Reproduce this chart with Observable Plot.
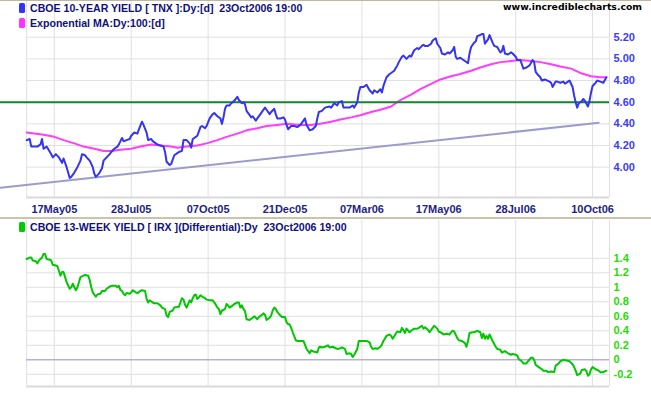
<!DOCTYPE html>
<html><head><meta charset="utf-8">
<script src="https://cdn.jsdelivr.net/npm/d3@7"></script>
<script src="https://cdn.jsdelivr.net/npm/@observablehq/plot@0.6"></script>
<style>
body{margin:0;background:#fff;}
#wrap{position:relative;width:651px;height:395px;overflow:hidden;background:#fff;}
#top,#bot,#over{position:absolute;left:0;}
#top{top:0}
#bot{top:220px}
#over{top:0;pointer-events:none}
</style></head><body>
<div id="wrap"><div id="top"></div><div id="bot"></div><div id="over"></div></div>
<script>
// trading-day index (0 = first session shown) and values
const tickDays = [18, 68, 118, 168, 218, 268, 318, 368];
const tickLabels = ["17May05","28Jul05","07Oct05","21Dec05","07Mar06","17May06","28Jul06","10Oct06"];
const topTicks = [4.0, 4.2, 4.4, 4.6, 4.8, 5.0, 5.2];
const botTicks = [-0.2, 0, 0.2, 0.4, 0.6, 0.8, 1, 1.2, 1.4];
const resistance = 4.60;
const trendline = [[-17, 3.81], [372, 4.41]];

const tnxSeries = [
[0,4.25],[2,4.26],[3,4.19],[5,4.19],[7,4.19],[9,4.21],[10,4.26],[11,4.17],[13,4.19],[16,4.12],
[17,4.09],[19,4.12],[21,4.09],[23,4.04],[24,4.08],[26,4.00],[28,3.90],[29,3.91],[31,3.95],[33,4.00],
[35,4.06],[36,4.12],[38,4.11],[39,4.09],[41,4.06],[43,4.00],[44,3.94],[45,3.91],[47,3.94],[49,3.99],
[50,4.06],[52,4.09],[54,4.12],[55,4.14],[57,4.17],[59,4.19],[60,4.21],[62,4.27],[63,4.24],[65,4.25],
[67,4.26],[68,4.29],[70,4.32],[72,4.31],[73,4.35],[75,4.42],[76,4.39],[78,4.32],[79,4.25],[81,4.26],
[82,4.24],[84,4.22],[85,4.21],[87,4.20],[89,4.19],[90,4.14],[91,4.05],[93,4.02],[94,4.03],[96,4.11],
[98,4.13],[99,4.14],[101,4.15],[102,4.25],[104,4.25],[106,4.22],[107,4.18],[108,4.26],[110,4.28],[111,4.29],
[113,4.37],[114,4.38],[116,4.36],[117,4.38],[119,4.45],[121,4.49],[122,4.50],[124,4.47],[126,4.45],[127,4.40],
[128,4.46],[129,4.54],[130,4.57],[132,4.57],[133,4.59],[134,4.60],[136,4.63],[137,4.65],[138,4.62],[140,4.59],
[141,4.60],[142,4.58],[143,4.52],[145,4.48],[146,4.46],[147,4.47],[149,4.43],[150,4.45],[152,4.49],[153,4.51],
[155,4.55],[156,4.53],[158,4.49],[159,4.51],[161,4.54],[162,4.49],[163,4.45],[165,4.45],[167,4.46],[168,4.44],
[169,4.39],[170,4.35],[172,4.38],[174,4.38],[176,4.37],[178,4.39],[180,4.43],[181,4.45],[182,4.39],[184,4.34],
[186,4.35],[188,4.38],[189,4.45],[190,4.51],[192,4.52],[194,4.55],[197,4.56],[198,4.55],[200,4.59],[202,4.57],
[203,4.60],[205,4.61],[206,4.55],[208,4.55],[210,4.55],[212,4.57],[213,4.55],[215,4.60],[216,4.69],[217,4.74],
[219,4.74],[221,4.76],[223,4.71],[225,4.68],[226,4.71],[228,4.69],[230,4.72],[231,4.69],[232,4.75],[234,4.83],
[236,4.86],[237,4.87],[239,4.89],[241,4.94],[242,4.97],[244,5.02],[245,5.03],[247,5.00],[249,5.03],[250,5.02],
[252,5.08],[254,5.10],[255,5.09],[257,5.12],[258,5.13],[259,5.12],[261,5.12],[263,5.14],[264,5.17],[266,5.19],
[267,5.14],[269,5.10],[270,5.05],[272,5.04],[274,5.06],[275,5.05],[277,5.08],[278,5.11],[279,5.02],[280,5.00],
[282,5.01],[284,4.99],[285,4.98],[287,4.96],[288,5.05],[289,5.11],[291,5.15],[292,5.16],[293,5.21],[295,5.22],
[296,5.23],[297,5.23],[298,5.14],[300,5.18],[301,5.22],[303,5.15],[304,5.12],[306,5.11],[308,5.06],[309,5.07],
[310,5.12],[311,5.05],[313,5.04],[315,5.06],[316,5.05],[318,5.02],[319,4.99],[321,4.99],[322,4.95],[323,4.91],
[325,4.92],[327,4.94],[329,4.99],[330,4.97],[331,4.88],[332,4.86],[334,4.83],[335,4.80],[337,4.81],[340,4.79],
[341,4.78],[342,4.74],[344,4.79],[345,4.79],[347,4.78],[349,4.79],[350,4.77],[352,4.79],[353,4.80],[355,4.74],
[356,4.66],[357,4.60],[358,4.55],[359,4.59],[361,4.61],[362,4.63],[363,4.61],[365,4.56],[366,4.61],[367,4.69],
[368,4.75],[370,4.78],[371,4.80],[373,4.79],[375,4.78],[377,4.83]];

const emaSeries = [
[0,4.32],[5,4.31],[11,4.30],[18,4.28],[24,4.25],[31,4.22],[37,4.19],[44,4.17],[50,4.15],[55,4.15],
[61,4.16],[68,4.17],[74,4.19],[81,4.21],[87,4.20],[94,4.19],[98,4.18],[104,4.19],[111,4.20],[117,4.22],
[124,4.25],[130,4.28],[137,4.31],[143,4.34],[150,4.36],[156,4.38],[163,4.39],[169,4.40],[178,4.39],[185,4.39],
[191,4.40],[198,4.42],[204,4.44],[211,4.46],[217,4.48],[224,4.51],[230,4.53],[237,4.56],[243,4.62],[250,4.67],
[256,4.72],[263,4.77],[269,4.81],[276,4.84],[282,4.86],[289,4.89],[295,4.92],[302,4.95],[308,4.97],[315,4.98],
[321,4.99],[328,4.98],[334,4.97],[341,4.95],[347,4.93],[354,4.91],[360,4.87],[367,4.84],[373,4.83],[377,4.83]];

const irxSeries = [
[0,1.39],[2,1.41],[3,1.41],[4,1.37],[6,1.36],[7,1.33],[8,1.37],[9,1.39],[10,1.41],[11,1.46],
[12,1.46],[13,1.39],[15,1.38],[16,1.37],[17,1.31],[19,1.30],[20,1.29],[22,1.16],[23,1.21],[24,1.21],
[25,1.14],[26,1.07],[28,0.98],[29,1.00],[30,1.05],[31,1.00],[32,0.96],[33,1.00],[34,1.07],[35,1.14],
[37,1.16],[38,1.17],[40,1.16],[41,1.10],[42,1.00],[43,0.93],[45,0.87],[46,0.90],[48,0.91],[49,0.95],
[51,0.95],[52,0.98],[54,1.01],[56,1.02],[58,1.02],[59,1.00],[60,1.02],[61,0.96],[62,0.95],[63,0.91],
[64,0.89],[65,0.92],[67,0.91],[68,0.93],[69,0.96],[71,0.93],[72,0.92],[74,0.95],[75,0.96],[77,0.95],
[78,0.84],[79,0.79],[80,0.82],[82,0.79],[83,0.78],[85,0.78],[87,0.75],[88,0.72],[90,0.70],[91,0.61],
[92,0.59],[93,0.66],[95,0.68],[96,0.72],[98,0.73],[99,0.73],[100,0.79],[101,0.85],[102,0.83],[103,0.76],
[104,0.72],[106,0.82],[107,0.79],[108,0.85],[109,0.89],[110,0.90],[111,0.84],[112,0.86],[113,0.89],[115,0.86],
[116,0.85],[117,0.83],[119,0.82],[121,0.82],[122,0.79],[123,0.76],[124,0.72],[125,0.70],[126,0.63],[127,0.68],
[129,0.70],[130,0.77],[131,0.75],[132,0.72],[134,0.75],[135,0.77],[137,0.79],[138,0.79],[139,0.72],[140,0.75],
[141,0.70],[142,0.67],[143,0.56],[145,0.55],[147,0.58],[148,0.60],[150,0.56],[151,0.59],[153,0.62],[154,0.64],
[155,0.62],[156,0.55],[158,0.58],[159,0.61],[160,0.68],[161,0.72],[162,0.70],[163,0.66],[165,0.61],[166,0.59],
[168,0.59],[169,0.52],[170,0.49],[171,0.49],[172,0.44],[173,0.38],[175,0.27],[176,0.26],[178,0.26],[180,0.26],
[182,0.15],[184,0.09],[185,0.13],[187,0.11],[189,0.10],[190,0.17],[191,0.18],[192,0.17],[194,0.18],[196,0.20],
[197,0.17],[199,0.18],[200,0.17],[202,0.15],[204,0.16],[205,0.17],[207,0.15],[208,0.08],[210,0.09],[211,0.08],
[212,0.04],[213,0.07],[215,0.15],[216,0.26],[218,0.26],[219,0.26],[221,0.26],[223,0.24],[224,0.18],[225,0.15],
[227,0.16],[228,0.15],[230,0.18],[231,0.21],[232,0.26],[234,0.33],[236,0.35],[237,0.33],[238,0.29],[240,0.36],
[241,0.39],[243,0.38],[244,0.44],[245,0.41],[246,0.37],[247,0.43],[249,0.38],[250,0.40],[252,0.43],[254,0.43],
[255,0.44],[257,0.47],[258,0.43],[259,0.45],[261,0.41],[262,0.38],[264,0.44],[265,0.47],[267,0.43],[268,0.39],
[270,0.37],[271,0.35],[273,0.36],[275,0.35],[276,0.38],[277,0.40],[278,0.39],[280,0.30],[281,0.27],[283,0.26],
[285,0.23],[286,0.18],[287,0.26],[288,0.37],[290,0.38],[291,0.38],[293,0.40],[294,0.39],[295,0.38],[296,0.30],
[297,0.36],[298,0.29],[299,0.33],[300,0.29],[301,0.35],[303,0.26],[305,0.18],[306,0.15],[308,0.14],[309,0.10],
[311,0.12],[313,0.09],[315,0.07],[316,0.08],[318,0.07],[319,0.06],[320,0.01],[322,-0.02],[323,-0.05],[325,-0.05],
[326,-0.02],[328,0.03],[329,0.03],[330,0.00],[331,-0.07],[333,-0.10],[335,-0.13],[336,-0.15],[338,-0.15],[339,-0.17],
[341,-0.16],[343,-0.17],[344,-0.08],[346,-0.05],[347,-0.02],[349,0.00],[351,-0.01],[353,-0.02],[355,-0.06],[356,-0.10],
[357,-0.15],[358,-0.21],[360,-0.19],[361,-0.14],[363,-0.13],[364,-0.16],[365,-0.22],[366,-0.20],[367,-0.13],[368,-0.10],
[370,-0.13],[372,-0.15],[373,-0.17],[375,-0.17],[377,-0.15]];

const xDomain = [-17, 379];
const firstDay = tnxSeries[0][0];
const grid = "#e0e0e0";
const FAMILY = "Liberation Sans, Arial, sans-serif";
const font = {fontFamily: FAMILY, fontSize: "11px", fontWeight: "bold", background: "transparent", overflow: "visible"};

const topPlot = Plot.plot({
  width: 651, height: 219,
  marginLeft: 0, marginRight: 42, marginTop: 0, marginBottom: 22,
  x: {domain: xDomain},
  y: {domain: [3.72, 5.539]},
  style: font,
  marks: [
    Plot.ruleX(tickDays, {stroke: grid}),
    Plot.ruleX([firstDay, xDomain[1]], {stroke: grid}),
    Plot.ruleY(topTicks, {x1: firstDay, x2: xDomain[1], stroke: grid}),
    Plot.ruleY([3.72], {x1: firstDay, x2: xDomain[1], stroke: "#dadada", strokeWidth: 2}),
    Plot.line(trendline, {x: d => d[0], y: d => d[1], stroke: "#9c9ccc", strokeWidth: 2}),
    Plot.line(emaSeries, {x: d => d[0], y: d => d[1], stroke: "#ff3cff", strokeWidth: 2}),
    Plot.ruleY([resistance], {stroke: "#0e8a28", strokeWidth: 2}),
    Plot.line(tnxSeries, {x: d => d[0], y: d => d[1], stroke: "#3434f2", strokeWidth: 2}),
    Plot.axisY(topTicks, {anchor: "right", tickSize: 0, tickPadding: 4, tickFormat: d3.format(".2f"), fill: "#3a3aff", label: null}),
    Plot.axisX(tickDays, {anchor: "bottom", tickSize: 0, tickPadding: 8, tickFormat: d => tickLabels[tickDays.indexOf(d)], fill: "#1e1e84", label: null})
  ]
});
document.getElementById("top").appendChild(topPlot);

const botPlot = Plot.plot({
  width: 651, height: 175,
  marginLeft: 0, marginRight: 42, marginTop: 0, marginBottom: 9,
  x: {domain: xDomain, axis: null},
  y: {domain: [-0.368, 1.921]},
  style: font,
  marks: [
    Plot.ruleX(tickDays, {stroke: grid}),
    Plot.ruleX([firstDay, xDomain[1]], {stroke: grid}),
    Plot.ruleY(botTicks, {x1: firstDay, x2: xDomain[1], stroke: grid}),
    Plot.ruleY([-0.368], {x1: firstDay, x2: xDomain[1], stroke: "#dadada", strokeWidth: 2}),
    Plot.ruleY([0], {x1: firstDay, x2: xDomain[1], stroke: "#9a9ac8"}),
    Plot.line(irxSeries, {x: d => d[0], y: d => d[1], stroke: "#00c800", strokeWidth: 2}),
    Plot.axisY(botTicks, {anchor: "right", tickSize: 0, tickPadding: 4, tickFormat: d => String(+d.toFixed(1)), fill: "#22dd00", label: null})
  ]
});
document.getElementById("bot").appendChild(botPlot);

// legends / header overlay
const svg = d3.select("#over").append("svg").attr("width", 651).attr("height", 395);
svg.append("rect").attr("x", 0).attr("y", 0).attr("width", 651).attr("height", 1).attr("fill", "#bdb9a0");
svg.append("rect").attr("x", 0).attr("y", 217).attr("width", 651).attr("height", 2).attr("fill", "#c9c5ad");
const legends = [
  {y: 12, color: "#3333ff", text: "CBOE 10-YEAR YIELD [ TNX ]:Dy:[d]  23Oct2006 19:00"},
  {y: 27, color: "#ff33ff", text: "Exponential MA:Dy:100:[d]"},
  {y: 231, color: "#00cc00", text: "CBOE 13-WEEK YIELD [ IRX ](Differential):Dy  23Oct2006 19:00"}
];
for (const l of legends) {
  svg.append("rect").attr("x", 19).attr("y", l.y - 9).attr("width", 6).attr("height", 10).attr("rx", 1.5).attr("fill", l.color);
  svg.append("text").attr("x", 30).attr("y", l.y).attr("fill", "#10107c")
    .attr("font-family", FAMILY).attr("font-size", 10.6).attr("font-weight", "bold")
    .attr("xml:space", "preserve").style("white-space", "pre").text(l.text);
}
svg.append("text").attr("x", 642).attr("y", 10).attr("text-anchor", "end").attr("fill", "#000")
  .attr("font-family", "DejaVu Sans, Verdana, sans-serif").attr("font-size", 9.3).attr("font-weight", "bold")
  .text("www.incrediblecharts.com");
</script>
</body></html>
